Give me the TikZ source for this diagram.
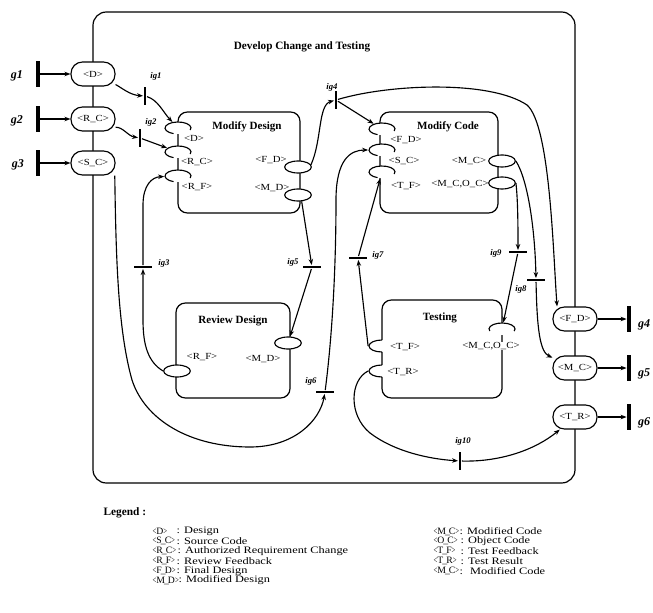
\documentclass[tikz,border=0pt]{standalone}
\usepackage{fontspec}
\setmainfont{Liberation Serif}
\newfontfamily\wideserif[FakeStretch=1.15]{Liberation Serif}
\newfontfamily\legserif[FakeStretch=1.25]{Liberation Serif}
\usetikzlibrary{arrows.meta,shapes.geometric}
\newcommand{\pn}[1]{\textless#1\textgreater}
\newcommand{\nbr}[1]{\scalebox{0.7}[1]{\textless}#1\scalebox{0.7}[1]{\textgreater}}
\newcommand{\nus}{\makebox[0.3em]{\_}}
\begin{document}
\begin{tikzpicture}[x=0.75pt,y=-0.75pt,line width=0.85pt,
 arr/.style={-{Stealth[length=4.5pt,width=3.4pt]}},
 pill/.style={draw,fill=white,rounded corners=8.6pt,minimum width=33pt,minimum height=18pt,inner sep=0pt,font=\wideserif\fontsize{7}{8}\selectfont},
 vbar/.style={fill=black,draw=none,minimum width=2.1pt,minimum height=14pt,inner sep=0pt},
 hbar/.style={fill=black,draw=none,minimum width=14pt,minimum height=2.1pt,inner sep=0pt},
 gbar/.style={fill=black,draw=none,minimum width=2.8pt,minimum height=20pt,inner sep=0pt},
 glab/.style={font=\fontsize{9}{10}\bfseries\itshape\selectfont,inner sep=0pt},
 iglab/.style={font=\fontsize{6.5}{7}\bfseries\itshape\selectfont,inner sep=0pt},
 plab/.style={font=\wideserif\fontsize{7}{8}\selectfont,inner sep=0.5pt},
 btitle/.style={font=\fontsize{8.3}{9}\bfseries\selectfont,inner sep=0pt},
 box/.style={draw,line width=0.9pt,rounded corners=7pt},
 oport/.style={draw,fill=white,ellipse,minimum width=20pt,minimum height=9pt,inner sep=0pt},
 iport/.style={fill=white,ellipse,minimum width=20pt,minimum height=9pt,inner sep=0pt},
 legn/.style={font=\fontsize{7.3}{8}\selectfont,inner sep=0pt,anchor=west},
 legd/.style={font=\legserif\fontsize{7.4}{8}\selectfont,inner sep=0pt,anchor=west},
]
\useasboundingbox (0,0) rectangle (653,613);

% outer box
\draw[box,rounded corners=10pt] (93,12) rectangle (575,483);
\node[font=\fontsize{8.4}{10}\bfseries\selectfont] (title) at (302,47) {Develop Change and Testing};

% inner boxes
\draw[box] (178,112) rectangle (300,213);
\node[btitle] (tmd) at (247,127) {Modify Design};
\draw[box] (380,112) rectangle (498,213);
\node[btitle] (tmc) at (448,127) {Modify Code};
\draw[box] (176,303) rectangle (290,398);
\node[btitle] (trd) at (233,321) {Review Design};
\draw[box] (382,300) rectangle (502,398);
\node[btitle] (tts) at (440,318) {Testing};

% Modify Design ports
\node[iport] (mdD) at (178,128) {};
\draw[shift={(178,128)}] (20:13 and 6) arc[start angle=20,end angle=-250,x radius=13,y radius=6];
\node[iport] (mdRC) at (178,152) {};
\draw[shift={(178,152)}] (20:13 and 6) arc[start angle=20,end angle=-250,x radius=13,y radius=6];
\node[iport] (mdRF) at (178,176) {};
\draw[shift={(178,176)}] (20:13 and 6) arc[start angle=20,end angle=-250,x radius=13,y radius=6];
\node[oport] (mdFD) at (298,167) {};
\node[oport] (mdMD) at (298,195) {};
\node[plab] (lmdD) at (194,138) {\pn{D}};
\node[plab] (lmdRC) at (197,162) {\pn{R\_C}};
\node[plab] (lmdRF) at (197,187) {\pn{R\_F}};
\node[plab] (lmdFD) at (271,160) {\pn{F\_D}};
\node[plab] (lmdMD) at (272,188) {\pn{M\_D}};

% Modify Code ports
\node[iport] (mcFD) at (382,129) {};
\draw[shift={(382,129)}] (20:13 and 6) arc[start angle=20,end angle=-250,x radius=13,y radius=6];
\node[iport] (mcSC) at (382,150) {};
\draw[shift={(382,150)}] (20:13 and 6) arc[start angle=20,end angle=-250,x radius=13,y radius=6];
\node[iport] (mcTF) at (382,172) {};
\draw[shift={(382,172)}] (20:13 and 6) arc[start angle=20,end angle=-250,x radius=13,y radius=6];
\node[oport] (mcMC) at (502,161) {};
\node[oport] (mcMCOC) at (502,183) {};
\node[plab] (lmcFD) at (406,140) {\pn{F\_D}};
\node[plab] (lmcSC) at (404,161) {\pn{S\_C}};
\node[plab] (lmcTF) at (406,186) {\pn{T\_F}};
\node[plab] (lmcMC) at (469,161) {\pn{M\_C}};
\node[plab] (lmcMCOC) at (460,184) {\pn{M\_C,O\_C}};

% Review Design ports
\node[oport] (rdRF) at (177,371) {};
\node[oport] (rdMD) at (288,343) {};
\node[plab] (lrdRF) at (202,357) {\pn{R\_F}};
\node[plab] (lrdMD) at (263,359) {\pn{M\_D}};

% Testing ports
\node[iport] (tTF) at (382,346) {};
\draw[shift={(382,346)}] (-90:13 and 6) arc[start angle=-90,end angle=-270,x radius=13,y radius=6];
\node[iport] (tTR) at (382,371) {};
\draw[shift={(382,371)}] (-90:13 and 6) arc[start angle=-90,end angle=-270,x radius=13,y radius=6];
\node[plab,fill=white] (ltMCOC) at (491,346) {\pn{M\_C,O\_C}};
\node[iport] (tMCOC) at (502,329) {};
\draw[shift={(502,329)}] (-200:13 and 6) arc[start angle=-200,end angle=20,x radius=13,y radius=6];
\node[plab] (ltTF) at (405,347) {\pn{T\_F}};
\node[plab] (ltTR) at (403,372) {\pn{T\_R}};

% outer pills
\node[pill] (pD) at (93,74) {\pn{D}};
\node[pill] (pRC) at (93,119) {\pn{R\_C}};
\node[pill] (pSC) at (93,163) {\pn{S\_C}};
\node[pill] (pFD) at (575,319) {\pn{F\_D}};
\node[pill] (pMC) at (575,368) {\pn{M\_C}};
\node[pill] (pTR) at (575,417) {\pn{T\_R}};

% external bars
\node[gbar] (g1) at (38,74) {};
\node[gbar] (g2) at (38,119) {};
\node[gbar] (g3) at (38,163) {};
\node[gbar] (g4) at (629,319) {};
\node[gbar] (g5) at (629,368) {};
\node[gbar] (g6) at (629,417) {};
\node[glab] (lg1) at (17,76) {g1};
\node[glab] (lg2) at (17,121) {g2};
\node[glab] (lg3) at (18,165) {g3};
\node[glab] (lg4) at (644,325) {g4};
\node[glab] (lg5) at (644,374) {g5};
\node[glab] (lg6) at (644,423) {g6};

% internal bars
\node[vbar] (ig1) at (145,96) {};
\node[vbar] (ig2) at (140,138) {};
\node[hbar] (ig3) at (143,267) {};
\node[vbar] (ig4) at (336,100) {};
\node[hbar] (ig5) at (312,267) {};
\node[hbar] (ig6) at (325,392) {};
\node[hbar] (ig7) at (358,258) {};
\node[hbar] (ig8) at (536,280) {};
\node[hbar] (ig9) at (518,252) {};
\node[vbar] (ig10) at (460,461) {};
\node[iglab] (lig1) at (156,76) {ig1};
\node[iglab] (lig2) at (151,122) {ig2};
\node[iglab] (lig3) at (164,263) {ig3};
\node[iglab] (lig4) at (332,87) {ig4};
\node[iglab] (lig5) at (293,262) {ig5};
\node[iglab] (lig6) at (311,381) {ig6};
\node[iglab] (lig7) at (378,255) {ig7};
\node[iglab] (lig8) at (521,289) {ig8};
\node[iglab] (lig9) at (496,253) {ig9};
\node[iglab] (lig10) at (463,441) {ig10};

% connectors
\draw[arr] (g1) -- (pD);
\draw[arr] (g2) -- (pRC);
\draw[arr] (g3) -- (pSC);
\draw[arr] (pFD) -- (g4);
\draw[arr] (pMC) -- (g5);
\draw[arr] (pTR) -- (g6);

\draw[arr] (pD.-25) .. controls (122,88) and (130,95) .. (ig1);
\draw[arr] (ig1) .. controls (158,100) and (163,112) .. (mdD);
\draw[arr] (pRC.-20) .. controls (123,127) and (128,136) .. (ig2);
\draw[arr] (ig2) -- (mdRC);
\draw[arr] (pSC.-30) .. controls (116,260) and (118,330) .. (132,380) .. controls (145,420) and (190,447) .. (250,447) .. controls (295,447) and (320,420) .. (ig6);
\draw[arr] (ig6) .. controls (333,330) and (336,260) .. (336,200) .. controls (336,160) and (350,150) .. (mcSC);
\draw[arr] (mdFD.10) .. controls (322,140) and (318,105) .. (ig4);
\draw[arr] (ig4) -- (mcFD);
\draw[arr] (ig4) .. controls (390,84) and (490,80) .. (527,105) .. controls (550,125) and (553,250) .. (pFD.145);
\draw[arr] (mdMD.-60) -- (ig5);
\draw[arr] (ig5) -- (rdMD);
\draw[arr] (rdRF.west) .. controls (148,362) and (143,345) .. (143,320) -- (ig3);
\draw[arr] (ig3) -- (143,205) .. controls (143,185) and (152,177) .. (mdRF);
\draw[arr] (tTF.west) -- (ig7);
\draw[arr] (ig7) -- (mcTF);
\draw[arr] (mcMC.east) .. controls (528,180) and (535,230) .. (ig8);
\draw[arr] (ig8) .. controls (537,330) and (540,352) .. (pMC);
\draw[arr] (mcMCOC.east) .. controls (518,200) and (518,230) .. (ig9);
\draw[arr] (ig9) -- (tMCOC);
\draw[arr] (tTR.west) .. controls (350,380) and (348,415) .. (370,433) .. controls (395,452) and (430,459) .. (ig10);
\draw[arr] (ig10) .. controls (500,462) and (535,450) .. (pTR);

% legend
\node[anchor=west,inner sep=0pt,font=\fontsize{8.5}{9}\bfseries\selectfont] (legt) at (103,513) {Legend :};
\node[legn] (n1) at (152,531.5) {\nbr{D}};
\node[legd] (d1) at (176,531.5) {: Design};
\node[legn] (n2) at (152,541.3) {\nbr{S\nus C}};
\node[legd] (d2) at (176,541.3) {: Source Code};
\node[legn] (n3) at (152,551.1) {\nbr{R\nus C}};
\node[legd] (d3) at (177,551.1) {: Authorized Requirement Change};
\node[legn] (n4) at (152,560.9) {\nbr{R\nus F}};
\node[legd] (d4) at (176,560.9) {: Review Feedback};
\node[legn] (n5) at (152,570.7) {\nbr{F\nus D}};
\node[legd] (d5) at (176,570.7) {: Final Design};
\node[legn] (n6) at (152,580.5) {\nbr{M\nus D}};
\node[legd] (d6) at (178,580.5) {: Modified Design};
\node[legn] (n7) at (433,531.5) {\nbr{M\nus C}};
\node[legd] (d7) at (459,531.5) {: Modified Code};
\node[legn] (n8) at (433,541.3) {\nbr{O\nus C}};
\node[legd] (d8) at (460,541.3) {: Object Code};
\node[legn] (n9) at (433,551.1) {\nbr{T\nus F}};
\node[legd] (d9) at (460,551.1) {: Test Feedback};
\node[legn] (n10) at (433,560.9) {\nbr{T\nus R}};
\node[legd] (d10) at (460,560.9) {: Test Result};
\node[legn] (n11) at (433,570.7) {\nbr{M\nus C}};
\node[legd] (d11) at (459,570.7) {: \ Modified Code};
\end{tikzpicture}
\end{document}
